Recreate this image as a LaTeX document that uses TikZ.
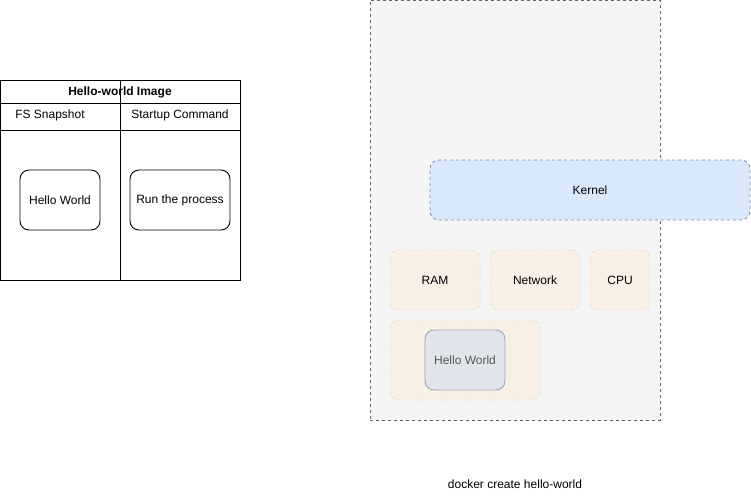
\documentclass[tikz,border=0pt]{standalone}
\usepackage{fontspec}
\setmainfont{Liberation Sans}
\definecolor{outerfill}{HTML}{F5F5F5}
\definecolor{outerdraw}{HTML}{666666}
\definecolor{kernfill}{HTML}{DAE8FC}
\definecolor{kerndraw}{HTML}{8090A8}
\definecolor{resfill}{HTML}{F8EFE5}
\definecolor{resdraw}{HTML}{EADFD4}
\definecolor{hwfill}{HTML}{E1E4EA}
\definecolor{hwdraw}{HTML}{9AA7BD}
\definecolor{hwtext}{HTML}{555555}
\tikzset{
  txt/.style={font=\fontsize{12}{14}\selectfont, inner sep=0pt},
  roundbox/.style={draw=black, rounded corners=9pt, line width=0.9pt, txt},
  resbox/.style={draw=resdraw, fill=resfill, dashed, rounded corners=8pt, line width=0.9pt, txt},
}
\begin{document}
\begin{tikzpicture}[x=1pt,y=-1pt]
\useasboundingbox (0,0) rectangle (751,501);
% left table
\draw[line width=0.9pt] (0.5,80) rectangle (240,280);
\draw[line width=0.9pt] (0.5,103) -- (240,103);
\draw[line width=0.9pt] (0.5,130) -- (240,130);
\draw[line width=0.9pt] (120,80) -- (120,280);
\node[txt, font=\fontsize{12}{14}\selectfont\bfseries] (title) at (120,92) {Hello-world Image};
\node[txt] (fs) at (50,115) {FS Snapshot};
\node[txt] (sc) at (180,115) {Startup Command};
\node[roundbox, minimum width=80pt, minimum height=60pt] (hw1) at (60,200) {Hello World};
\node[roundbox, minimum width=100pt, minimum height=60pt] (run) at (180,200) {Run the process};
% right container
\node[draw=outerdraw, fill=outerfill, dashed, line width=0.8pt, minimum width=290pt, minimum height=420pt, inner sep=0pt] (cont) at (515,210) {};
\node[draw=kerndraw, fill=kernfill, dashed, rounded corners=9pt, line width=0.9pt, minimum width=320pt, minimum height=60pt, txt] (kernel) at (590,190) {Kernel};
\node[resbox, minimum width=90pt, minimum height=60pt] (ram) at (435,280) {RAM};
\node[resbox, minimum width=90pt, minimum height=60pt] (net) at (535,280) {Network};
\node[resbox, minimum width=60pt, minimum height=60pt] (cpu) at (620,280) {CPU};
\node[resbox, minimum width=150pt, minimum height=80pt] (proc) at (465,360) {};
\node[draw=hwdraw, fill=hwfill, rounded corners=9pt, line width=0.9pt, minimum width=80pt, minimum height=60pt, txt, text=hwtext] (hw2) at (465,360) {Hello World};
\node[txt] (cmd) at (515,484) {docker create hello-world};
\end{tikzpicture}
\end{document}
